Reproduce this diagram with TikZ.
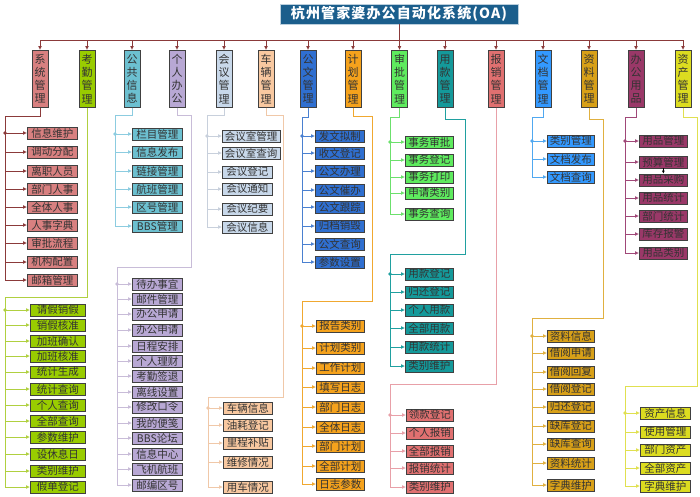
\documentclass[tikz,border=0pt]{standalone}
\usepackage{fontspec}
\setmainfont{Noto Sans CJK SC}
\newfontfamily\titlefont[LetterSpace=8]{Noto Sans CJK SC}
\usetikzlibrary{arrows.meta}
\definecolor{bus}{HTML}{8B3A3A}
\definecolor{ttl}{HTML}{1B5E8C}
\definecolor{f1}{HTML}{D88080}\definecolor{l1}{HTML}{8B3A3A}
\definecolor{f2}{HTML}{99CC00}\definecolor{l2}{HTML}{B0D040}
\definecolor{f3}{HTML}{6CC0D0}\definecolor{l3}{HTML}{8CCCE0}
\definecolor{f4}{HTML}{B8A8D4}\definecolor{l4}{HTML}{C8BCD8}
\definecolor{f5}{HTML}{C8D8EA}\definecolor{l5}{HTML}{C8D0DC}
\definecolor{f6}{HTML}{F8C8A0}\definecolor{l6}{HTML}{F0C8A8}
\definecolor{f7}{HTML}{2F6FD0}\definecolor{l7}{HTML}{4A80D0}
\definecolor{f8}{HTML}{F5A21C}\definecolor{l8}{HTML}{F0A830}
\definecolor{f9}{HTML}{5EEB5E}\definecolor{l9}{HTML}{6CE06C}
\definecolor{f10}{HTML}{14999A}\definecolor{l10}{HTML}{20A0A0}
\definecolor{f11}{HTML}{E07070}\definecolor{l11}{HTML}{E8A0A8}
\definecolor{f12}{HTML}{3399FF}\definecolor{l12}{HTML}{50A8F0}
\definecolor{f13}{HTML}{D8A018}\definecolor{l13}{HTML}{E0B040}
\definecolor{f14}{HTML}{9A3868}\definecolor{l14}{HTML}{A04878}
\definecolor{f15}{HTML}{DCDC20}\definecolor{l15}{HTML}{E0E050}
\tikzset{
  topbox/.style={draw=black!75, line width=0.7pt, minimum width=16pt, minimum height=57pt,
    inner sep=0pt, align=center, anchor=north, font=\fontsize{11}{13.2}\selectfont, text=black!80},
  itembox/.style={draw=black!75, line width=0.7pt, minimum height=12pt, inner xsep=2.5pt,
    inner ysep=0pt, anchor=west, font=\fontsize{10.5}{11}\selectfont, text=black!80},
  conn/.style={line width=0.8pt},
  tip/.style={-{Latex[length=4pt,width=4pt]}},
}
\newcommand\mkitems[4]{% #1 id, #2 left x, #3 min width, #4 list y/text
  \foreach \yy/\txt [count=\k] in {#4}{
    \node[itembox, fill=f#1, minimum width=#3pt] (i#1-\k) at (#2,\yy) {\txt};
    \draw[conn, draw=l#1, tip] (sp#1 |- i#1-\k.west) -- (i#1-\k.west);
  }
  \fill[l#1] (sp#1 |- i#1-1.west) circle (1.8pt);
}
\begin{document}
\begin{tikzpicture}[x=1pt,y=-1pt]
\useasboundingbox (0,0) rectangle (700,496);
% title
\node[fill=ttl, draw=white!70!ttl, line width=0.6pt, minimum width=238pt, minimum height=20pt,
  inner sep=0pt, text=white, font=\titlefont\bfseries\fontsize{14}{16}\selectfont] (title) at (399,14)
  {杭州管家婆办公自动化系统(OA)};
% top boxes
\node[topbox, fill=f1] (t1) at (40,50) {系\\统\\管\\理};
\node[topbox, fill=f2] (t2) at (87,50) {考\\勤\\管\\理};
\node[topbox, fill=f3] (t3) at (132,50) {公\\共\\信\\息};
\node[topbox, fill=f4] (t4) at (177,50) {个\\人\\办\\公};
\node[topbox, fill=f5] (t5) at (224,50) {会\\议\\管\\理};
\node[topbox, fill=f6] (t6) at (266,50) {车\\辆\\管\\理};
\node[topbox, fill=f7] (t7) at (308,50) {公\\文\\管\\理};
\node[topbox, fill=f8] (t8) at (353,50) {计\\划\\管\\理};
\node[topbox, fill=f9] (t9) at (399.5,50) {审\\批\\管\\理};
\node[topbox, fill=f10] (t10) at (445,50) {用\\款\\管\\理};
\node[topbox, fill=f11] (t11) at (496,50) {报\\销\\管\\理};
\node[topbox, fill=f12] (t12) at (543,50) {文\\档\\管\\理};
\node[topbox, fill=f13] (t13) at (589,50) {资\\料\\管\\理};
\node[topbox, fill=f14] (t14) at (636,50) {办\\公\\用\\品};
\node[topbox, fill=f15] (t15) at (683,50) {资\\产\\管\\理};
% bus
\coordinate (busL) at (40,40);
\draw[conn, bus] (t1.north |- busL) -- (t15.north |- busL);
\draw[conn, bus] (title.south) -- (title.south |- busL);
\foreach \k in {1,...,15}{
  \draw[conn, bus, tip] (t\k.north |- busL) -- (t\k.north);
}
% spine coordinates
\coordinate (sp1) at (5,116);
\coordinate (sp2) at (5,297);
\coordinate (sp3) at (115,115);
\coordinate (b4) at (191,115); \coordinate (sp4) at (117,267);
\coordinate (sp5) at (207,115);
\coordinate (b6) at (283,115); \coordinate (sp6) at (208,397);
\coordinate (sp7) at (302,117);
\coordinate (b8) at (372,116); \coordinate (sp8) at (302,301);
\coordinate (sp9) at (390,117);
\coordinate (b10) at (465,119); \coordinate (sp10) at (390,254);
\coordinate (sp11) at (390,384);
\coordinate (sp12) at (532,117);
\coordinate (b13) at (603,119); \coordinate (sp13) at (532,318);
\coordinate (sp14) at (625,117);
\coordinate (b15) at (697,117); \coordinate (sp15) at (625,386);
% items
\mkitems{1}{27}{50}{133/信息维护,152/调动分配,171/离职人员,189/部门人事,207/全体人事,225/人事字典,243/审批流程,262/机构配置,280/邮箱管理}
\mkitems{2}{30}{55}{310/请假销假,325/销假核准,341/加班确认,356/加班核准,372/统计生成,389/统计查询,405/个人查询,421/全部查询,437/参数维护,454/设休息日,471/类别维护,487/假单登记}
\mkitems{3}{132}{50}{134/栏目管理,152/信息发布,171/链接管理,189/航班管理,207/区号管理,226/BBS管理}
\mkitems{4}{132}{50}{284/待办事宜,299/邮件管理,314/办公申请,330/办公申请,346/日程安排,361/个人理财,376/考勤签退,392/离线设置,407/修改口令,423/我的便笺,438/BBS论坛,454/信息中心,469/飞机航班,485/邮编区号}
\mkitems{5}{222}{50}{136/会议室管理,153/会议室查询,172/会议登记,189/会议通知,209/会议纪要,227/会议信息}
\mkitems{6}{223}{49}{408/车辆信息,425/油耗登记,443/里程补贴,462/维修情况,487/用车情况}
\mkitems{7}{315}{49}{136/发文拟制,153/收文登记,171/公文办理,190/公文催办,207/公文跟踪,226/归档销毁,244/公文查询,262/参数设置}
\mkitems{8}{316}{48}{326/报告类别,348/计划类别,368/工作计划,387/填写日志,407/部门日志,427/全体日志,446/部门计划,466/全部计划,484/日志参数}
\mkitems{9}{405}{48}{142/事务审批,160/事务登记,177/事务打印,193/申请类别,214/事务查询}
\mkitems{10}{405}{48}{274/用款登记,292/归还登记,310/个人用款,328/全部用款,347/用款统计,366/类别维护}
\mkitems{11}{406}{46}{415/领款登记,433/个人报销,451/全部报销,468/报销统计,487/类别维护}
\mkitems{12}{547}{47}{141/类别管理,159/文档发布,177/文档查询}
\mkitems{13}{547}{46}{336/资料信息,353/借阅申请,372/借阅回复,389/借阅登记,407/归还登记,426/缺库登记,444/缺库查询,463/资料统计,485/字典维护}
\mkitems{14}{639}{48}{141/用品管理,162/预算管理,180/用品采购,198/用品统计,216/部门统计,234/库存报警,253/用品类别}
\mkitems{15}{640}{50}{413/资产信息,432/使用管理,450/部门资产,468/全部资产,486/字典维护}
% trunks
\draw[conn, l1] (t1.south) |- (sp1) -- (sp1 |- i1-9.west);
\draw[conn, l2] (t2.south) |- (sp2) -- (sp2 |- i2-12.west);
\draw[conn, l3] (t3.south) |- (sp3) -- (sp3 |- i3-6.west);
\draw[conn, l4] (t4.south) |- (b4) |- (sp4) -- (sp4 |- i4-14.west);
\draw[conn, l5] (t5.south) |- (sp5) -- (sp5 |- i5-6.west);
\draw[conn, l6] (t6.south) |- (b6) |- (sp6) -- (sp6 |- i6-5.west);
\draw[conn, l7] (t7.south) |- (sp7) -- (sp7 |- i7-8.west);
\draw[conn, l8] (t8.south) |- (b8) |- (sp8) -- (sp8 |- i8-9.west);
\draw[conn, l9] (t9.south) |- (sp9) -- (sp9 |- i9-5.west);
\draw[conn, l10] (t10.south) |- (b10) |- (sp10) -- (sp10 |- i10-6.west);
\draw[conn, l11] (t11.south) |- (sp11) -- (sp11 |- i11-5.west);
\draw[conn, l12] (t12.south) |- (sp12) -- (sp12 |- i12-3.west);
\draw[conn, l13] (t13.south) |- (b13) |- (sp13) -- (sp13 |- i13-9.west);
\draw[conn, l14] (t14.south) |- (sp14) -- (sp14 |- i14-7.west);
\draw[conn, l15] (t15.south) |- (b15) |- (sp15) -- (sp15 |- i15-5.west);
% small arrow between 预算管理 and 用品采购
\draw[line width=0.6pt, black, -{Latex[length=3pt,width=3pt]}] (i14-2.south) -- (i14-3.north);
\end{tikzpicture}
\end{document}
